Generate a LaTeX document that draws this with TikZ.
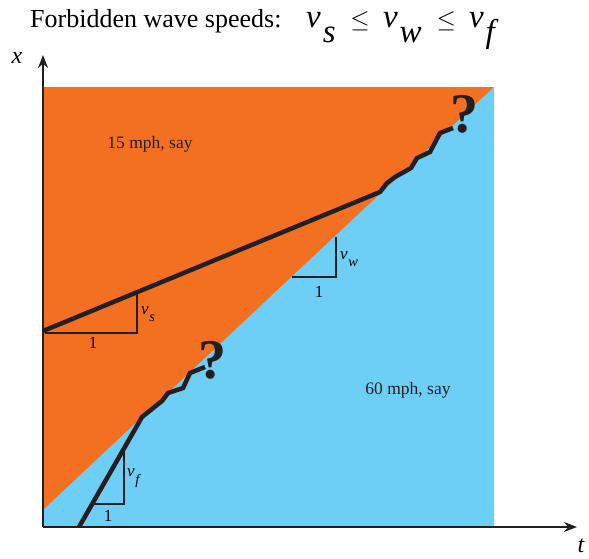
\documentclass[tikz,border=0pt]{standalone}
\usepackage{fontspec}
\setmainfont{Liberation Serif}
\usetikzlibrary{arrows.meta}
\definecolor{orng}{RGB}{243,112,33}
\definecolor{sky}{RGB}{109,207,246}
\definecolor{ink}{RGB}{35,31,32}
\newcommand{\vsb}[1]{\textit{v}\kern0.04em\raisebox{-0.45em}{\scalebox{0.85}{\textit{#1}}}}
\newcommand{\tvsb}[1]{\textit{v}\kern0.06em\raisebox{-0.45em}{\textit{#1}}}
\newcommand{\tleq}{{\fontsize{34}{34}\selectfont$\leq$}}
\tikzset{
  axis/.style={draw=ink,line width=1.8pt,-{Stealth[length=13pt,width=10pt]}},
  wave/.style={draw=ink,line width=4.5pt,line join=miter,line cap=butt},
  slopetri/.style={draw=ink,line width=1.2pt},
  lbl/.style={inner sep=0pt,font=\fontsize{17}{19}\selectfont},
  say/.style={inner sep=0pt,font=\fontsize{17.5}{19}\selectfont,text=ink},
  qmark/.style={inner sep=0pt,font=\fontsize{56}{60}\selectfont\bfseries,text=ink},
}
\begin{document}
\begin{tikzpicture}[x=1pt,y=-1pt]
\useasboundingbox (0,0) rectangle (589,559);
% regions
\fill[orng] (43,87) rectangle (494,527);
\fill[sky] (43,510) -- (494,87) -- (494,527) -- (43,527) -- cycle;
% axes
\coordinate (O) at (43,527);
\coordinate (xtip) at (43,55);
\coordinate (ttip) at (577,527);
\draw[axis] (O) -- (xtip);
\draw[axis] (O) -- (ttip);
\node[inner sep=0pt,font=\fontsize{24}{26}\selectfont\itshape] (xlab) at (17,58) {x};
\node[inner sep=0pt,font=\fontsize{24}{26}\selectfont\itshape] (tlab) at (581,546) {t};
% title
\node[anchor=base west,inner sep=0pt,font=\fontsize{26}{30}\selectfont] (title) at (30,28)
  {Forbidden wave speeds:\hspace{0.95em}{\fontsize{33}{35}\selectfont\tvsb{s}\hspace{0.45em}\tleq\hspace{0.4em}\tvsb{w}\hspace{0.45em}\tleq\hspace{0.4em}\tvsb{f}}};
% slow wave
\coordinate (s0) at (43,331);
\coordinate (s1) at (380,192);
\draw[wave] (s0) -- (s1) -- (387,183) -- (395,177) -- (411,168) -- (417,158)
  -- (430,152) -- (440,133) -- (453,128);
% fast wave
\coordinate (f0) at (79,527);
\coordinate (f1) at (142,417);
\draw[wave] (f0) -- (f1) -- (162,401) -- (168,393) -- (183,388) -- (190,373) -- (205,367);
% question marks
\node[qmark] (q1) at (464,114) {?};
\node[qmark] (q2) at (212,360) {?};
% slope triangles
\draw[slopetri] (45,333) -- (137,333) -- (137,294);
\node[lbl] (one1) at (93,343) {1};
\node[lbl,anchor=west] (vs) at (141,314) {\vsb{s}};
\draw[slopetri] (292,277) -- (336,277) -- (336,237);
\node[lbl] (one2) at (319,292) {1};
\node[lbl,anchor=west] (vw) at (340,259) {\vsb{w}};
\draw[slopetri] (94,504) -- (124,504) -- (124,450);
\node[lbl] (one3) at (108,516) {1};
\node[lbl,anchor=west] (vf) at (127,478) {\vsb{f}};
% speed labels
\node[say] (slowsay) at (150,144) {15 mph, say};
\node[say] (fastsay) at (408,390) {60 mph, say};
\end{tikzpicture}
\end{document}
